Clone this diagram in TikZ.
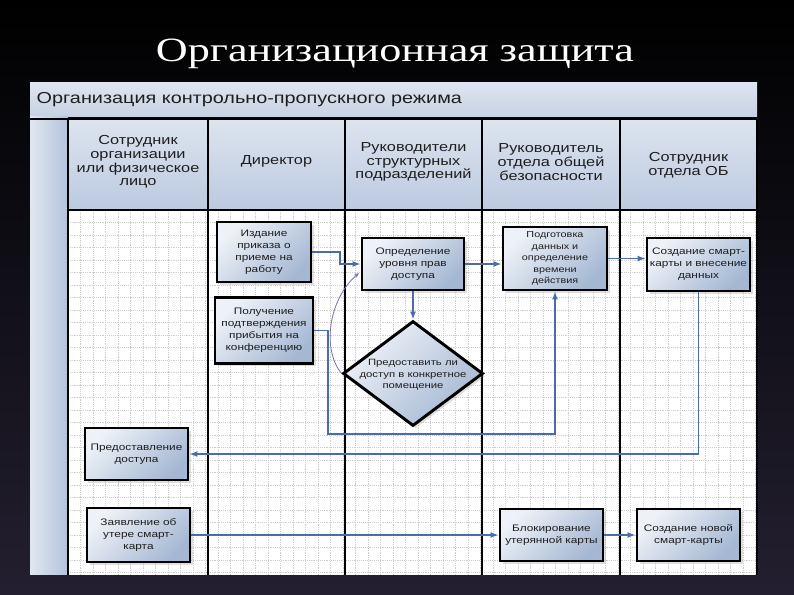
\documentclass[tikz,border=0pt]{standalone}
\usepackage{fontspec}
\setmainfont{Liberation Sans}
\newfontfamily\titlefont[FakeStretch=1.3]{Liberation Serif}
\newfontfamily\visfont[FakeStretch=1.25]{Liberation Sans}
\usetikzlibrary{arrows.meta, positioning, shapes.geometric, calc, shadows}
\definecolor{BgTop}{HTML}{000000}
\definecolor{BgBot}{HTML}{231F30}
\definecolor{BarTop}{HTML}{DDE5EF}
\definecolor{BarBot}{HTML}{C6D2E4}
\definecolor{HeadTop}{HTML}{DCE4EF}
\definecolor{HeadBot}{HTML}{BCCAE0}
\definecolor{StripL}{HTML}{E0E7F1}
\definecolor{StripR}{HTML}{B3C3DA}
\definecolor{BoxLight}{HTML}{EEF2F8}
\definecolor{BoxDark}{HTML}{A5B8D3}
\definecolor{GridGray}{HTML}{CDCDCD}
\definecolor{ConnBlue}{HTML}{4A6CA8}
\definecolor{ArcPurple}{HTML}{7A72A8}
\definecolor{TxtDark}{HTML}{1E1E1E}

\tikzset{
  visbox/.style={draw=black, line width=2.2pt, top color=BoxLight, bottom color=BoxDark,
    shading angle=45, drop shadow={opacity=0.25, shadow xshift=2pt, shadow yshift=-2pt},
    align=center, inner sep=1pt, text=TxtDark,
    font=\visfont\fontsize{7.1}{9}\selectfont},
  vistext/.style={align=center, inner sep=0pt, text=TxtDark,
    font=\visfont\fontsize{6.8}{8.6}\selectfont},
  lanetext/.style={align=center, text=TxtDark, font=\visfont\fontsize{9.8}{10.2}\selectfont},
  laneline/.style={draw=black, line width=2.2pt},
  gridline/.style={draw=GridGray, line width=0.4pt, densely dotted},
  conn/.style={draw=ConnBlue, line width=1.1pt, -{Latex[length=6pt, width=4.5pt]}},
  arcline/.style={draw=ArcPurple, line width=0.6pt, -{Stealth[length=4pt, width=3pt]}}
}

\begin{document}
\begin{tikzpicture}[x=0.75pt, y=-0.75pt]
    \useasboundingbox (0,0) rectangle (794,595);
    % Background
    \shade[top color=BgTop, bottom color=BgBot] (0,0) rectangle (794,595);
    \node[text=white, font=\titlefont\fontsize{25.5}{28}\selectfont] (title) at (395,54) {Организационная защита};

    % Pool header
    \shade[top color=BarTop, bottom color=BarBot] (30,83) rectangle (757,117);
    \node[anchor=west, text=TxtDark, font=\visfont\fontsize{11.9}{13}\selectfont] (pool) at (32,100) {Организация контрольно-пропускного режима};
    \shade[left color=StripL, right color=StripR] (30,117) rectangle (68,575);

    % Lane headers
    \foreach \xa/\xb in {68/208, 208/345, 345/482, 482/620, 620/757}
        \shade[top color=HeadTop, bottom color=HeadBot] (\xa,119) rectangle (\xb,210);
    \node[lanetext] (lane1) at (138,162) {Сотрудник\\организации\\или физическое\\лицо};
    \node[lanetext] (lane2) at (276.5,161) {Директор};
    \node[lanetext] (lane3) at (413.5,162) {Руководители\\структурных\\подразделений};
    \node[lanetext] (lane4) at (551,162) {Руководитель\\отдела общей\\безопасности};
    \node[lanetext] (lane5) at (688.5,165) {Сотрудник\\отдела ОБ};

    % Body with grid
    \fill[white] (68,210) rectangle (757,575);
    \foreach \gx in {80.5,93,...,757}
        \draw[gridline] (\gx,210) -- (\gx,575);
    \foreach \gy in {222.5,235,...,575}
        \draw[gridline] (68,\gy) -- (757,\gy);

    % Lane borders
    \foreach \lx in {68,208,345,482,620,757}
        \draw[laneline] (\lx,119) -- (\lx,575);
    \draw[laneline] (30,119) -- (757,119);
    \draw[laneline] (68,210) -- (757,210);

    % Steps
    \node[visbox, minimum width=70.5pt, minimum height=45pt] (izd) at (264,252) {Издание\\приказа о\\приеме на\\работу};
    \node[visbox, minimum width=73.5pt, minimum height=50pt] (pol) at (264,330.5) {Получение\\подтверждения\\прибытия на\\конференцию};
    \node[visbox, minimum width=76.5pt, minimum height=39pt] (opr) at (413,264) {Определение\\уровня прав\\доступа};
    \node[visbox, diamond, inner sep=0pt, minimum width=105pt, minimum height=78.75pt] (dec) at (413,373.5) {};
    \node[vistext] (dectxt) at (413,375) {Предоставить ли\\доступ в конкретное\\помещение};
    \node[visbox, minimum width=78pt, minimum height=47.25pt, font=\visfont\fontsize{6.5}{8.7}\selectfont] (podg) at (555,258.5) {Подготовка\\данных и\\определение\\времени\\действия};
    \node[visbox, minimum width=77.25pt, minimum height=39.75pt] (sozd) at (698.5,264.5) {Создание смарт-\\карты и внесение\\данных};
    \node[visbox, minimum width=77.25pt, minimum height=39pt] (pred) at (136.5,454) {Предоставление\\доступа};
    \node[visbox, minimum width=77.25pt, minimum height=40.5pt] (zay) at (138.5,535) {Заявление об\\утере смарт-\\карта};
    \node[visbox, minimum width=77.25pt, minimum height=39pt] (blok) at (551.5,535) {Блокирование\\утерянной карты};
    \node[visbox, minimum width=77.25pt, minimum height=39pt] (nov) at (688.5,535) {Создание новой\\смарт-карты};

    % Flow
    \coordinate (ja) at (340,252);
    \coordinate (jf) at (328,434);
    \coordinate (arcend) at (359,273);
    \draw[conn] (izd.east) -- (ja) |- (opr.west);
    \draw[conn] (opr.east) -- (opr.east -| podg.west);
    \draw[conn] (podg.east) -- (podg.east -| sozd.west);
    \draw[conn] (opr.south) -- (dec.north);
    \draw[conn] (pol.east) -| (jf) -| (podg.south);
    \draw[conn] (sozd.south) |- (pred.east);
    \draw[conn] (zay.east) -- (blok.west);
    \draw[conn] (blok.east) -- (nov.west);
    \draw[arcline] (dec.west) .. controls (322,350) and (328,300) .. (arcend);
\end{tikzpicture}
\end{document}
